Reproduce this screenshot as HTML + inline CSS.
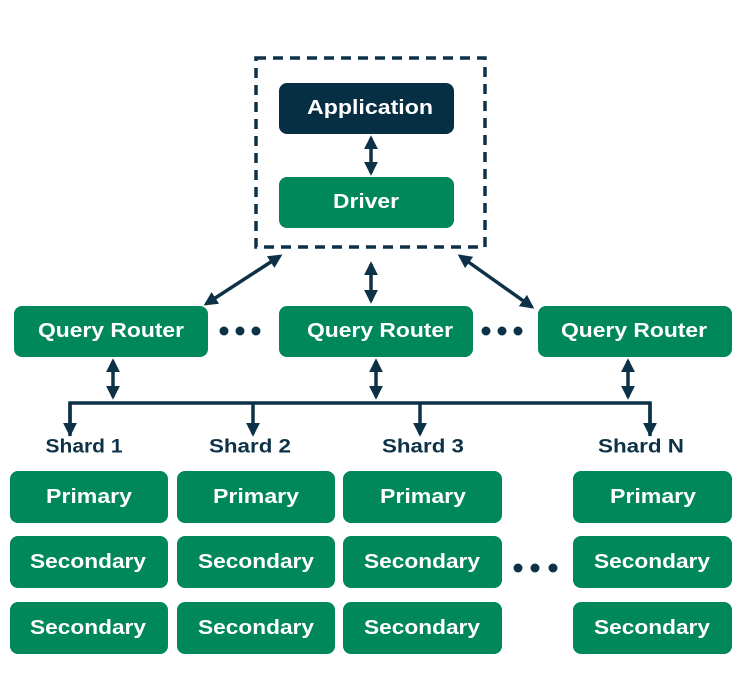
<!DOCTYPE html>
<html><head><meta charset="utf-8"><style>
body{margin:0;background:#fff}
text{font-family:"Liberation Sans",sans-serif;font-weight:bold;fill:#fff;text-anchor:middle;dominant-baseline:central}
.l{fill:#0d3248}
</style></head><body>
<svg width="740" height="692" viewBox="0 0 740 692" xmlns="http://www.w3.org/2000/svg">
<defs>
<marker id="a" viewBox="0 0 10 10" refX="8" refY="5" markerWidth="4" markerHeight="4" orient="auto-start-reverse"><path d="M0,0L10,5L0,10z" fill="#0d3248"/></marker>
</defs>
<rect x="256" y="58" width="229" height="189" fill="none" stroke="#0d3248" stroke-width="3.5" stroke-dasharray="10,7"/>
<rect x="279" y="83" width="175" height="51" rx="8" fill="#062f44"/>
<text x="370" y="108" font-size="20" textLength="126" lengthAdjust="spacingAndGlyphs">Application</text>
<rect x="279" y="177" width="175" height="51" rx="8" fill="#00875a"/>
<text x="366" y="202" font-size="20" textLength="66" lengthAdjust="spacingAndGlyphs">Driver</text>
<g stroke="#0d3248" stroke-width="3.5" fill="none">
<line x1="371" y1="138" x2="371" y2="173" marker-start="url(#a)" marker-end="url(#a)"/>
<line x1="280" y1="256" x2="206" y2="304" marker-start="url(#a)" marker-end="url(#a)"/>
<line x1="460" y1="256" x2="532" y2="307" marker-start="url(#a)" marker-end="url(#a)"/>
<line x1="371" y1="264" x2="371" y2="301" marker-start="url(#a)" marker-end="url(#a)"/>
<line x1="113" y1="361" x2="113" y2="397" marker-start="url(#a)" marker-end="url(#a)"/>
<line x1="376" y1="361" x2="376" y2="397" marker-start="url(#a)" marker-end="url(#a)"/>
<line x1="628" y1="361" x2="628" y2="397" marker-start="url(#a)" marker-end="url(#a)"/>
<path d="M70,436V403H650V436" />
<line x1="70" y1="403" x2="70" y2="434" marker-end="url(#a)"/>
<line x1="253" y1="403" x2="253" y2="434" marker-end="url(#a)"/>
<line x1="420" y1="403" x2="420" y2="434" marker-end="url(#a)"/>
<line x1="650" y1="403" x2="650" y2="434" marker-end="url(#a)"/>
</g>
<g fill="#00875a">
<rect x="14" y="306" width="194" height="51" rx="8"/>
<rect x="279" y="306" width="194" height="51" rx="8"/>
<rect x="538" y="306" width="194" height="51" rx="8"/>
</g>
<g font-size="20">
<text x="111" y="331" textLength="146" lengthAdjust="spacingAndGlyphs">Query Router</text>
<text x="380" y="331" textLength="146" lengthAdjust="spacingAndGlyphs">Query Router</text>
<text x="634" y="331" textLength="146" lengthAdjust="spacingAndGlyphs">Query Router</text>
</g>
<g fill="#0d3248">
<circle cx="224" cy="331" r="4.5"/><circle cx="240" cy="331" r="4.5"/><circle cx="256" cy="331" r="4.5"/>
<circle cx="486" cy="331" r="4.5"/><circle cx="502" cy="331" r="4.5"/><circle cx="518" cy="331" r="4.5"/>
<circle cx="518" cy="568" r="4.5"/><circle cx="535" cy="568" r="4.5"/><circle cx="553" cy="568" r="4.5"/>
</g>
<g font-size="19">
<text class="l" x="84" y="447" textLength="77" lengthAdjust="spacingAndGlyphs">Shard 1</text>
<text class="l" x="250" y="447" textLength="82" lengthAdjust="spacingAndGlyphs">Shard 2</text>
<text class="l" x="423" y="447" textLength="82" lengthAdjust="spacingAndGlyphs">Shard 3</text>
<text class="l" x="641" y="447" textLength="86" lengthAdjust="spacingAndGlyphs">Shard N</text>
</g>
<g fill="#00875a">
<rect x="10" y="471" width="158" height="52" rx="8"/><rect x="177" y="471" width="158" height="52" rx="8"/><rect x="343" y="471" width="159" height="52" rx="8"/><rect x="573" y="471" width="159" height="52" rx="8"/>
<rect x="10" y="536" width="158" height="52" rx="8"/><rect x="177" y="536" width="158" height="52" rx="8"/><rect x="343" y="536" width="159" height="52" rx="8"/><rect x="573" y="536" width="159" height="52" rx="8"/>
<rect x="10" y="602" width="158" height="52" rx="8"/><rect x="177" y="602" width="158" height="52" rx="8"/><rect x="343" y="602" width="159" height="52" rx="8"/><rect x="573" y="602" width="159" height="52" rx="8"/>
</g>
<g font-size="20">
<text x="89" y="497" textLength="86" lengthAdjust="spacingAndGlyphs">Primary</text><text x="256" y="497" textLength="86" lengthAdjust="spacingAndGlyphs">Primary</text><text x="423" y="497" textLength="86" lengthAdjust="spacingAndGlyphs">Primary</text><text x="653" y="497" textLength="86" lengthAdjust="spacingAndGlyphs">Primary</text>
<text x="88" y="562" textLength="116" lengthAdjust="spacingAndGlyphs">Secondary</text><text x="256" y="562" textLength="116" lengthAdjust="spacingAndGlyphs">Secondary</text><text x="422" y="562" textLength="116" lengthAdjust="spacingAndGlyphs">Secondary</text><text x="652" y="562" textLength="116" lengthAdjust="spacingAndGlyphs">Secondary</text>
<text x="88" y="628" textLength="116" lengthAdjust="spacingAndGlyphs">Secondary</text><text x="256" y="628" textLength="116" lengthAdjust="spacingAndGlyphs">Secondary</text><text x="422" y="628" textLength="116" lengthAdjust="spacingAndGlyphs">Secondary</text><text x="652" y="628" textLength="116" lengthAdjust="spacingAndGlyphs">Secondary</text>
</g>
</svg>
</body></html>
